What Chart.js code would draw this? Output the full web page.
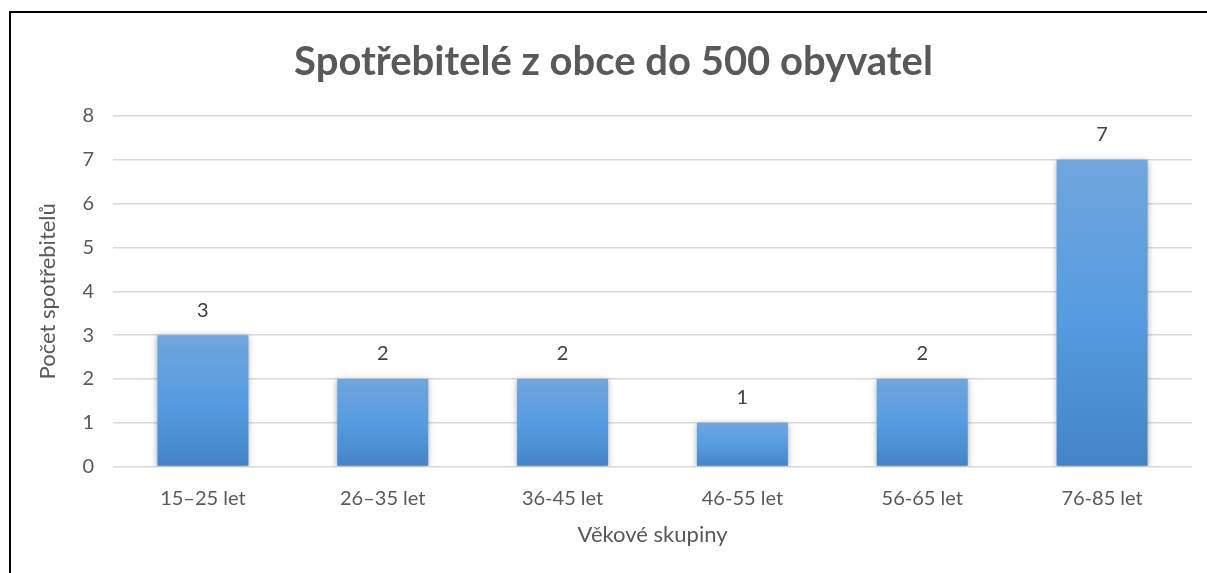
<!DOCTYPE html>
<html lang="cs">
<head>
    <meta charset="UTF-8">
    <title>Spotřebitelé z obce do 500 obyvatel</title>
    <script src="https://cdn.jsdelivr.net/npm/chart.js"></script>
    <style>
        html, body {
            margin: 0;
            padding: 0;
            width: 1207px;
            height: 573px;
            background: #fff;
            overflow: hidden;
        }
        #wrap {
            position: relative;
            width: 1207px;
            height: 573px;
            overflow: hidden;
        }
        #chart {
            display: block;
        }
        /* ramecek jako v puvodnim obrazku (jen vlevo a nahore) */
        .line-top {
            position: absolute;
            left: 9px;
            top: 11px;
            width: 1250px;
            height: 2px;
            background: #000;
        }
        .line-left {
            position: absolute;
            left: 9px;
            top: 11px;
            width: 2px;
            height: 600px;
            background: #000;
        }
    </style>
</head>
<body>
    <div id="wrap">
        <canvas id="chart" width="1207" height="573"></canvas>
        <div class="line-top"></div>
        <div class="line-left"></div>
    </div>

    <script>
        // data
        const kategorie = ['15–25 let', '26–35 let', '36-45 let', '46-55 let', '56-65 let', '76-85 let'];
        const pocty = [3, 2, 2, 1, 2, 7];
        const yTicks = [0, 1, 2, 3, 4, 5, 6, 7, 8];

        const FONT = 'Lato, "Open Sans", sans-serif';

        // prechod barvy pro kazdy sloupec podle jeho vysky
        function barGradient(context) {
            const chart = context.chart;
            const y = chart.scales.y;
            if (!y || context.dataIndex === undefined) return '#5b9bd5';
            const v = context.dataset.data[context.dataIndex];
            const top = y.getPixelForValue(v);
            const bottom = y.getPixelForValue(0);
            if (!isFinite(top) || !isFinite(bottom)) return '#5b9bd5';
            const g = chart.ctx.createLinearGradient(0, top, 0, bottom);
            g.addColorStop(0, '#70a6dc');
            g.addColorStop(0.5, '#569ce0');
            g.addColorStop(1, '#4384c7');
            return g;
        }

        // stin kolem sloupcu
        const shadowPlugin = {
            id: 'barShadow',
            beforeDatasetDraw(chart) {
                const ctx = chart.ctx;
                ctx.save();
                ctx.shadowColor = 'rgba(0,0,0,0.35)';
                ctx.shadowBlur = 6;
                ctx.shadowOffsetX = 0;
                ctx.shadowOffsetY = 1;
            },
            afterDatasetDraw(chart) {
                chart.ctx.restore();
            }
        };

        // popisky hodnot nad sloupci
        const valueLabels = {
            id: 'valueLabels',
            afterDatasetsDraw(chart) {
                const ctx = chart.ctx;
                const meta = chart.getDatasetMeta(0);
                ctx.save();
                ctx.font = '20px ' + FONT;
                ctx.fillStyle = '#404040';
                ctx.textAlign = 'center';
                ctx.textBaseline = 'middle';
                meta.data.forEach(function (bar, i) {
                    ctx.fillText(String(pocty[i]), bar.x, bar.y - 25);
                });
                ctx.restore();
            }
        };

        new Chart(document.getElementById('chart'), {
            type: 'bar',
            data: {
                labels: kategorie,
                datasets: [{
                    data: pocty,
                    backgroundColor: barGradient,
                    borderWidth: 0,
                    barPercentage: 0.506,
                    categoryPercentage: 1
                }]
            },
            options: {
                responsive: false,
                animation: false,
                layout: {
                    padding: { left: 35, right: 15, top: 20, bottom: 25 }
                },
                plugins: {
                    legend: { display: false },
                    tooltip: { enabled: false },
                    title: {
                        display: true,
                        text: 'Spotřebitelé z obce do 500 obyvatel',
                        color: '#595959',
                        font: { family: FONT, size: 40, weight: 'bold' },
                        padding: { top: 18, bottom: 30 }
                    }
                },
                scales: {
                    x: {
                        grid: { display: false, drawTicks: false },
                        border: { display: false },
                        ticks: {
                            color: '#595959',
                            font: { family: FONT, size: 20 },
                            padding: 20
                        },
                        title: {
                            display: true,
                            text: 'Věkové skupiny',
                            color: '#595959',
                            font: { family: FONT, size: 22 },
                            padding: { top: -9, bottom: 0 }
                        }
                    },
                    y: {
                        min: 0,
                        max: 8,
                        afterBuildTicks(axis) {
                            axis.ticks = yTicks.map(v => ({ value: v }));
                        },
                        grid: {
                            color: '#d9d9d9',
                            lineWidth: 1.5,
                            drawTicks: false
                        },
                        border: { display: false },
                        ticks: {
                            color: '#595959',
                            font: { family: FONT, size: 20 },
                            padding: 19
                        },
                        title: {
                            display: true,
                            text: 'Počet spotřebitelů',
                            color: '#595959',
                            font: { family: FONT, size: 22 },
                            padding: { top: 0, bottom: 2 }
                        }
                    }
                }
            },
            plugins: [shadowPlugin, valueLabels]
        });
    </script>
</body>
</html>
